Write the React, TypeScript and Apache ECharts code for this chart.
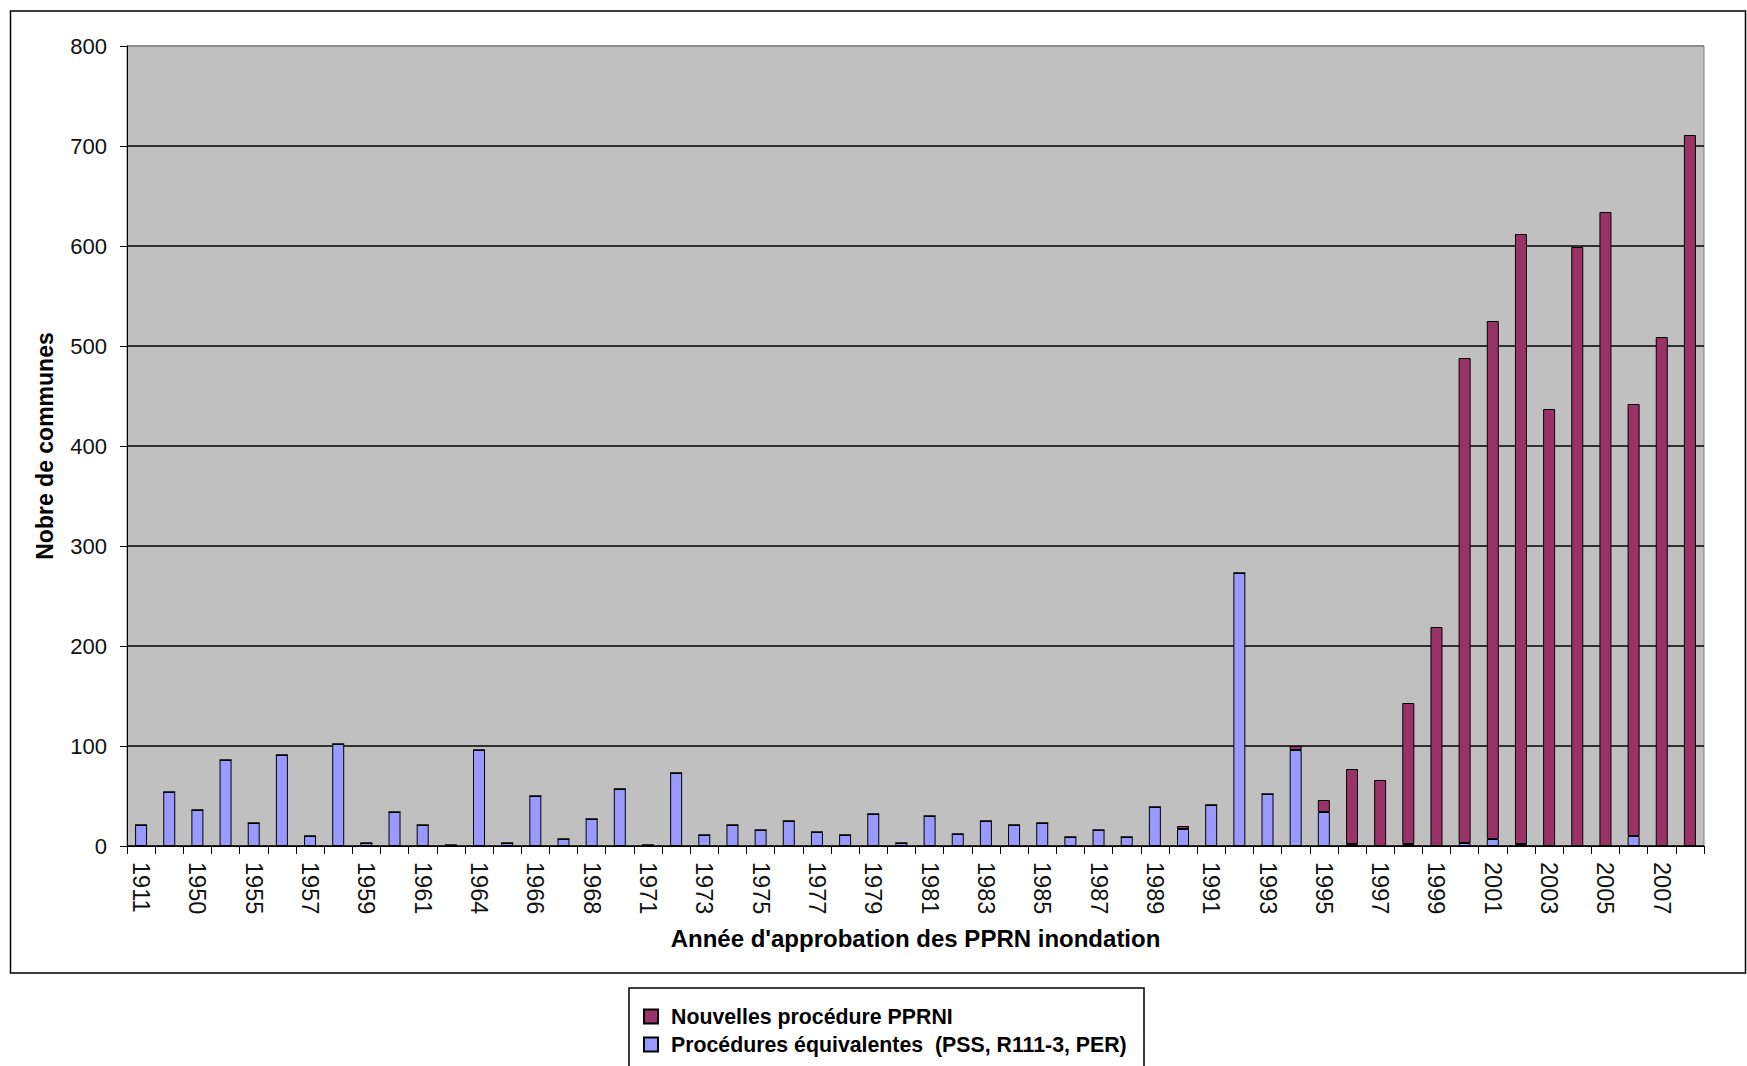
import React, { useEffect, useRef } from "react";
import * as echarts from "echarts";

const categories: string[] = [
  "1911", "1936", "1950", "1953", "1955", "1956", "1957", "1958", "1959", "1960",
  "1961", "1962", "1964", "1965", "1966", "1967", "1968", "1969", "1971", "1972",
  "1973", "1974", "1975", "1976", "1977", "1978", "1979", "1980", "1981", "1982",
  "1983", "1984", "1985", "1986", "1987", "1988", "1989", "1990", "1991", "1992",
  "1993", "1994", "1995", "1996", "1997", "1998", "1999", "2000", "2001", "2002",
  "2003", "2004", "2005", "2006", "2007", "2008",
];

const equivalentes: number[] = [
  21, 54, 36, 86, 23, 91, 10, 102, 3, 34,
  21, 1, 96, 3, 50, 7, 27, 57, 1, 73,
  11, 21, 16, 25, 14, 11, 32, 3, 30, 12,
  25, 21, 23, 9, 16, 9, 39, 17, 41, 273,
  52, 96, 34, 2, 0, 2, 0, 3, 7, 2,
  0, 0, 0, 10, 0, 0,
];

const nouvelles: number[] = [
  0, 0, 0, 0, 0, 0, 0, 0, 0, 0,
  0, 0, 0, 0, 0, 0, 0, 0, 0, 0,
  0, 0, 0, 0, 0, 0, 0, 0, 0, 0,
  0, 0, 0, 0, 0, 0, 0, 3, 0, 0,
  0, 4, 12, 75, 66, 141, 219, 485, 518, 610,
  437, 599, 634, 432, 509, 711,
];

const yTicks: number[] = [0, 100, 200, 300, 400, 500, 600, 700, 800];

const NAME_NEW = "Nouvelles procédure PPRNI";
const NAME_EQ = "Procédures équivalentes  (PSS, R111-3, PER)";
const X_TITLE = "Année d'approbation des PPRN inondation";
const Y_TITLE = "Nobre de communes";

const FONT = "Liberation Sans, Arial, sans-serif";

export default function App() {
  const ref = useRef<HTMLDivElement | null>(null);

  useEffect(() => {
    if (!ref.current) return;
    const chart = echarts.init(ref.current, undefined, { renderer: "svg" });
    const option: any = {
      animation: false,
      backgroundColor: "#ffffff",
      textStyle: { fontFamily: FONT },
      grid: {
        left: 127,
        top: 46,
        right: 43,
        bottom: 220,
        show: true,
        backgroundColor: "#C0C0C0",
        borderColor: "#808080",
        borderWidth: 1,
      },
      legend: {
        orient: "vertical",
        left: 643,
        top: 1006,
        padding: 0,
        itemWidth: 14,
        itemHeight: 14,
        itemGap: 7,
        icon: "rect",
        data: [NAME_NEW, NAME_EQ],
        textStyle: {
          fontFamily: FONT,
          fontWeight: "bold",
          fontSize: 21.3,
          lineHeight: 20,
          color: "#000",
          padding: [0, 0, 0, 8],
        },
      },
      xAxis: {
        type: "category",
        data: categories,
        boundaryGap: true,
        name: X_TITLE,
        nameLocation: "middle",
        nameGap: 80,
        nameTextStyle: {
          fontFamily: FONT,
          fontWeight: "bold",
          fontSize: 24,
          color: "#000",
        },
        axisLine: { show: true, lineStyle: { color: "#000", width: 1 } },
        axisTick: {
          show: true,
          interval: 0,
          length: 8,
          lineStyle: { color: "#000" },
        },
        axisLabel: {
          interval: 1,
          rotate: -90,
          margin: 16,
          fontFamily: FONT,
          fontSize: 23.5,
          color: "#111",
        },
        splitLine: { show: false },
      },
      yAxis: {
        type: "value",
        min: 0,
        max: yTicks[yTicks.length - 1],
        interval: 100,
        name: Y_TITLE,
        nameLocation: "middle",
        nameGap: 71,
        nameTextStyle: {
          fontFamily: FONT,
          fontWeight: "bold",
          fontSize: 23,
          color: "#000",
        },
        axisLine: { show: true, lineStyle: { color: "#000", width: 1 } },
        axisTick: { show: true, length: 7, lineStyle: { color: "#000" } },
        axisLabel: {
          margin: 20,
          fontFamily: FONT,
          fontSize: 22,
          color: "#111",
        },
        splitLine: {
          show: true,
          lineStyle: {
            color: [
              "#000", "#000", "#000", "#000", "#000",
              "#000", "#000", "#000", "#808080",
            ],
            width: 1.5,
          },
        },
      },
      series: [
        {
          name: NAME_EQ,
          type: "bar",
          stack: "total",
          data: equivalentes,
          barWidth: 12,
          itemStyle: { color: "#9999FF", borderColor: "#000", borderWidth: 1 },
        },
        {
          name: NAME_NEW,
          type: "bar",
          stack: "total",
          data: nouvelles,
          barWidth: 12,
          itemStyle: { color: "#993366", borderColor: "#000", borderWidth: 1 },
        },
      ],
      graphic: [
        {
          type: "rect",
          z: -10,
          silent: true,
          shape: { x: 10.5, y: 11, width: 1735, height: 962 },
          style: { fill: "none", stroke: "#000", lineWidth: 1.5 },
        },
        {
          type: "rect",
          z: -10,
          silent: true,
          shape: { x: 629, y: 988, width: 515, height: 120 },
          style: { fill: "#fff", stroke: "#000", lineWidth: 1.5 },
        },
      ],
    };
    chart.setOption(option);
    return () => {
      chart.dispose();
    };
  }, []);

  return (
    <div
      ref={ref}
      style={{ position: "absolute", left: 0, top: 0, width: 1747, height: 1066 }}
    />
  );
}
